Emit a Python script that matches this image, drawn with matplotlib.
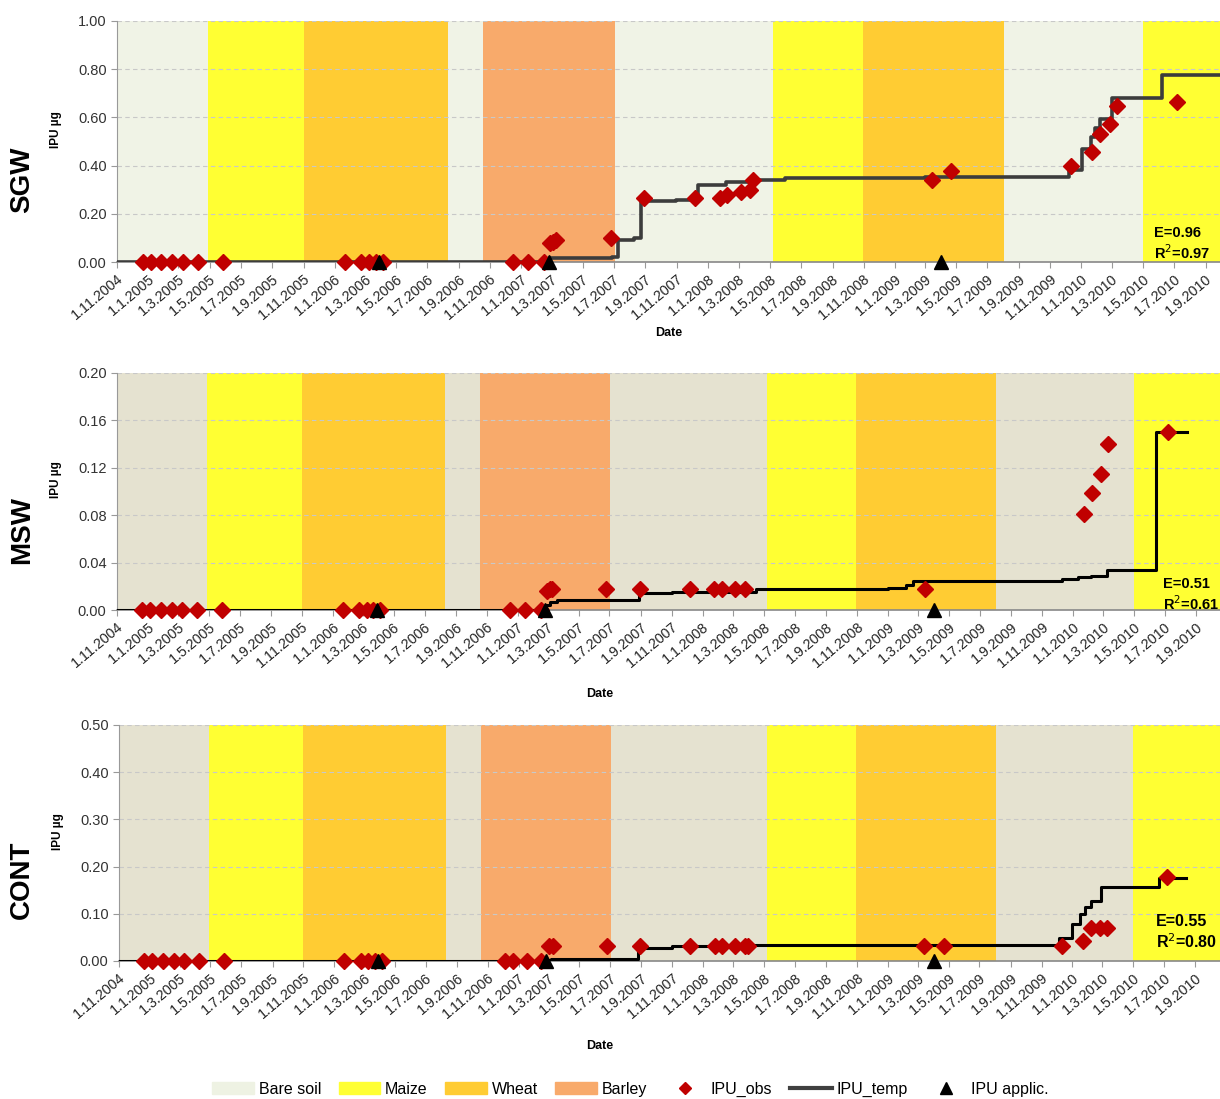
import numpy as np
import pandas as pd
import matplotlib
matplotlib.use("Agg")
import matplotlib.pyplot as plt
from matplotlib.patches import Patch
from matplotlib.lines import Line2D

plt.rcParams['font.family'] = ['Liberation Sans', 'DejaVu Sans']

# crop periods (start dates, crop name); each ends where the next starts
band_start = ['2004-10-01', '2005-04-28', '2005-11-01', '2006-08-11', '2006-10-18',
              '2007-07-03', '2008-05-07', '2008-10-30', '2009-08-02', '2010-05-01', '2011-01-01']
band_crop = ['Bare soil', 'Maize', 'Wheat', 'Bare soil', 'Barley',
             'Bare soil', 'Maize', 'Wheat', 'Bare soil', 'Maize']

# IPU applications
applic_dates = ['2006-03-29', '2007-02-24', '2009-04-02']

early_zero = ['2004-12-21', '2005-01-06', '2005-01-27', '2005-02-17', '2005-03-10', '2005-04-08',
              '2005-05-27', '2006-01-21', '2006-02-22', '2006-03-09', '2006-03-22', '2006-04-05']

# SGW
sgw_obs_dates = early_zero + ['2006-12-16', '2007-01-15', '2007-02-15',
                              '2007-02-27', '2007-03-05', '2007-03-10', '2007-06-25', '2007-08-30',
                              '2007-12-07', '2008-01-24', '2008-02-08', '2008-03-05', '2008-03-24', '2008-03-30',
                              '2009-03-14', '2009-04-21', '2009-12-12', '2010-01-22', '2010-02-07',
                              '2010-02-25', '2010-03-11', '2010-07-07']
sgw_obs = [0] * 12 + [0, 0, 0,
                      0.079, 0.085, 0.09, 0.10, 0.265,
                      0.265, 0.265, 0.279, 0.292, 0.30, 0.34,
                      0.34, 0.379, 0.399, 0.458, 0.53,
                      0.571, 0.648, 0.662]
sgw_temp_dates = ['2004-10-01', '2007-02-24', '2007-06-28', '2007-07-10', '2007-08-10', '2007-08-23',
                  '2007-10-30', '2007-12-13', '2008-02-05', '2008-04-01', '2008-05-31', '2009-03-01',
                  '2009-12-07', '2010-01-02', '2010-01-20', '2010-01-28', '2010-02-06', '2010-03-01',
                  '2010-06-08', '2011-01-01']
sgw_temp = [0, 0.015, 0.02, 0.09, 0.10, 0.254,
            0.258, 0.32, 0.33, 0.34, 0.348, 0.352,
            0.38, 0.47, 0.52, 0.555, 0.595, 0.68,
            0.775, 0.775]

# MSW
msw_obs_dates = early_zero + ['2006-12-16', '2007-01-15', '2007-02-15',
                              '2007-02-27', '2007-03-05', '2007-03-10', '2007-06-25', '2007-08-30',
                              '2007-12-07', '2008-01-24', '2008-02-08', '2008-03-05', '2008-03-24',
                              '2009-03-14', '2010-01-22', '2010-02-07', '2010-02-25', '2010-03-11',
                              '2010-07-07']
msw_obs = [0] * 12 + [0, 0, 0,
                      0.016, 0.0174, 0.018, 0.018, 0.018,
                      0.018, 0.018, 0.018, 0.018, 0.018,
                      0.018, 0.081, 0.099, 0.115, 0.140,
                      0.150]
msw_temp_dates = ['2004-10-01', '2007-02-26', '2007-03-05', '2007-03-20', '2007-04-15', '2007-08-28',
                  '2007-11-01', '2008-04-15', '2009-01-01', '2009-02-05', '2009-02-19', '2009-12-10',
                  '2010-01-10', '2010-02-05', '2010-03-08', '2010-06-13', '2010-08-14']
msw_temp = [0, 0.004, 0.007, 0.0084, 0.0084, 0.0143,
            0.015, 0.018, 0.0188, 0.021, 0.0247, 0.026,
            0.0275, 0.029, 0.0337, 0.150, 0.150]

# CONT
cont_obs_dates = early_zero + ['2006-12-04', '2006-12-20', '2007-01-18', '2007-02-15',
                               '2007-03-03', '2007-03-10', '2007-06-25', '2007-08-30',
                               '2007-12-07', '2008-01-24', '2008-02-08', '2008-03-05', '2008-03-24', '2008-03-30',
                               '2009-03-14', '2009-04-21', '2009-12-12', '2010-01-22', '2010-02-07',
                               '2010-02-25', '2010-03-11', '2010-07-07']
cont_obs = [0] * 12 + [0, 0, 0, 0,
                       0.032, 0.032, 0.032, 0.032,
                       0.032, 0.032, 0.032, 0.032, 0.032, 0.032,
                       0.032, 0.032, 0.032, 0.042, 0.070,
                       0.070, 0.070, 0.178]
cont_temp_dates = ['2004-10-01', '2007-02-25', '2007-03-05', '2007-08-26', '2007-11-01', '2008-03-01',
                   '2009-12-05', '2009-12-31', '2010-01-15', '2010-01-25', '2010-02-06', '2010-02-26',
                   '2010-06-22', '2010-08-14']
cont_temp = [0, 0.002, 0.005, 0.028, 0.032, 0.0345,
             0.049, 0.079, 0.10, 0.115, 0.127, 0.156,
             0.175, 0.175]

panels = ['SGW', 'MSW', 'CONT']
stats = ['E=0.96\nR$^2$=0.97', 'E=0.51\nR$^2$=0.61', 'E=0.55\nR$^2$=0.80']

crop_colors = {'Maize': '#FFFF33', 'Wheat': '#FFCC33', 'Barley': '#F8AA6B'}
bare_colors = ['#F0F3E6', '#E5E2D0', '#E5E2D0']

W, H = 1220, 1099
fig = plt.figure(figsize=(W / 100, H / 100), dpi=100)


def rect(l, t, r, b):
    return [l / W, 1 - b / H, (r - l) / W, (b - t) / H]


layout = [
    dict(box=rect(117, 21, 1220, 262), xmax='2010-09-29', ymax=1.0, step=0.2, lw=2.6, lc='#3C3C3C',
         label_y=180, date_xy=(669, 333), stat_xy=(1154, 226), fs=10.5),
    dict(box=rect(117, 373, 1220, 610), xmax='2010-10-18', ymax=0.2, step=0.04, lw=2.2, lc='black',
         label_y=530, date_xy=(600, 694), stat_xy=(1163, 577), fs=10.5),
    dict(box=rect(119, 725, 1220, 961), xmax='2010-10-20', ymax=0.5, step=0.1, lw=2.2, lc='black',
         label_y=880, date_xy=(600, 1046), stat_xy=(1156, 914), fs=11.5),
]

obs_all = [(sgw_obs_dates, sgw_obs), (msw_obs_dates, msw_obs), (cont_obs_dates, cont_obs)]
temp_all = [(sgw_temp_dates, sgw_temp), (msw_temp_dates, msw_temp), (cont_temp_dates, cont_temp)]

tick_dates = pd.date_range('2004-11-01', '2010-09-01', freq='2MS')

for i, name in enumerate(panels):
    cfg = layout[i]
    ax = fig.add_axes(cfg['box'])
    ax.set_xlim(pd.Timestamp('2004-11-01'), pd.Timestamp(cfg['xmax']))
    ax.set_ylim(0, cfg['ymax'])

    # crop bands
    for k, crop in enumerate(band_crop):
        c = bare_colors[i] if crop == 'Bare soil' else crop_colors[crop]
        ax.axvspan(pd.Timestamp(band_start[k]), pd.Timestamp(band_start[k + 1]), color=c, lw=0, zorder=0)

    yt = np.arange(0, cfg['ymax'] + 1e-9, cfg['step'])
    ax.set_yticks(yt)
    ax.set_yticklabels([f'{v:.2f}' for v in yt])
    for v in yt[1:]:
        ax.axhline(v, color='#C8C8C8', lw=0.8, ls=(0, (4, 3)), zorder=1)

    td, tv = temp_all[i]
    ax.plot(pd.to_datetime(td), tv, drawstyle='steps-post', color=cfg['lc'], lw=cfg['lw'], zorder=3)
    od, ov = obs_all[i]
    ax.plot(pd.to_datetime(od), ov, ls='none', marker='D', ms=8.5, color='#C00000', zorder=4, clip_on=False)
    ax.plot(pd.to_datetime(applic_dates), [0] * len(applic_dates), ls='none', marker='^', ms=10,
            color='black', zorder=5, clip_on=False)

    ax.set_xticks(tick_dates)
    ax.set_xticklabels([f'{d.day}.{d.month}.{d.year}' for d in tick_dates], rotation=40,
                       ha='right', rotation_mode='anchor', fontsize=10.3, color='#222222')
    ax.tick_params(axis='y', labelsize=10.5, labelcolor='#333333', color='#999999', length=4)
    ax.tick_params(axis='x', color='#999999', length=4, pad=3)
    for s in ['top', 'right']:
        ax.spines[s].set_visible(False)
    ax.spines['left'].set_color('#999999')
    ax.spines['bottom'].set_color('#888888')
    ax.spines['bottom'].set_linewidth(1.2)

    ax.set_ylabel('IPU µg', fontsize=8.5, fontweight='bold', labelpad=2)
    ax.yaxis.set_label_coords(-0.05, 0.55)

    fig.text(22 / W, 1 - cfg['label_y'] / H, name, rotation=90, fontsize=20, fontweight='bold',
             ha='center', va='center')
    fig.text(cfg['date_xy'][0] / W, 1 - cfg['date_xy'][1] / H, 'Date', fontsize=9, fontweight='bold',
             ha='center', va='center')
    fig.text(cfg['stat_xy'][0] / W, 1 - cfg['stat_xy'][1] / H, stats[i], fontsize=cfg['fs'],
             fontweight='bold', ha='left', va='top', linespacing=1.2)

handles = [Patch(color='#EEF2E3', label='Bare soil'),
           Patch(color=crop_colors['Maize'], label='Maize'),
           Patch(color=crop_colors['Wheat'], label='Wheat'),
           Patch(color=crop_colors['Barley'], label='Barley'),
           Line2D([], [], ls='none', marker='D', ms=6, color='#C00000', label='IPU_obs'),
           Line2D([], [], color='#404040', lw=3, label='IPU_temp'),
           Line2D([], [], ls='none', marker='^', ms=8, color='black', label='IPU applic.')]
fig.legend(handles=handles, loc='center', bbox_to_anchor=(0.517, 0.009), ncol=7, frameon=False,
           fontsize=11.5, handlelength=2.6, handleheight=0.7, columnspacing=1.1, handletextpad=0.3)

fig.savefig('out.png', dpi=100)
